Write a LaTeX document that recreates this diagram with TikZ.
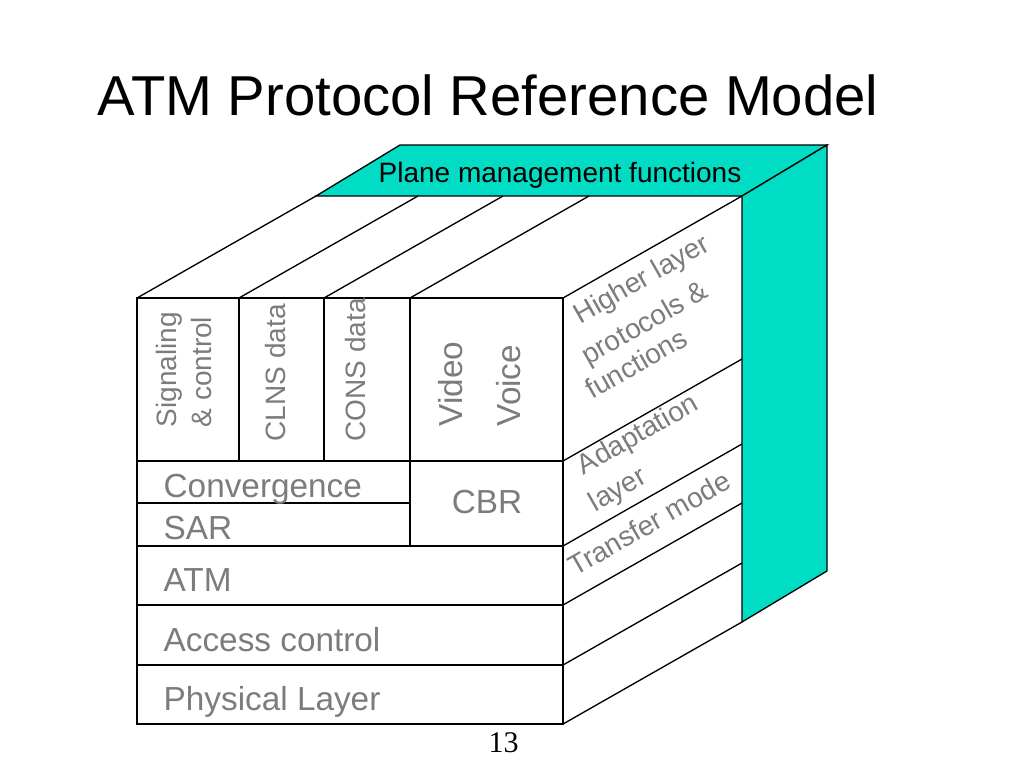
\documentclass[tikz,border=0pt]{standalone}
\usepackage{fontspec}
\setmainfont{Liberation Sans}
\newfontfamily\pagefont{Liberation Serif}
\usetikzlibrary{calc}
\definecolor{planecyan}{RGB}{0,221,196}
\definecolor{labelgray}{RGB}{124,124,124}

\begin{document}
\begin{tikzpicture}[x=0.75pt,y=-0.75pt,line width=1pt,
  rowtxt/.style={inner sep=0pt,text=labelgray,anchor=base west,font=\fontsize{25}{30}\selectfont},
  smalltxt/.style={inner sep=0pt,text=labelgray,font=\fontsize{21}{26.25}\selectfont},
  uptxt/.style={inner sep=0pt,text=labelgray,rotate=90,anchor=base west},
  sidetxt/.style={smalltxt,anchor=base,rotate=29.7}]
\useasboundingbox (0,0) rectangle (1024,768);
% the title
\node[inner sep=0pt,anchor=base west,font=\fontsize{42.2}{50}\selectfont] (title) at (97,115) {ATM Protocol Reference Model};
% the management plane behind the cube
\draw[fill=planecyan] (316,196) -- (400,145) -- (827,145) -- (742,196) -- cycle;
\draw[fill=planecyan] (742,196) -- (827,145) -- (827,571) -- (742,622) -- cycle;
\node[inner sep=0pt,anchor=base west,font=\fontsize{21}{25}\selectfont] (plane) at (378,182) {Plane management functions};
% top and right side of the cube
\foreach \x in {137,239,324,410,563}
  \draw (\x,298) -- ++(179,-102);
\foreach \y in {461,546,605,665,724}
  \draw (563,\y) -- ++(179,-102);
% front of the cube
\draw (137,298) rectangle (563,724);
\foreach \y in {461,546,605,665}
  \draw (137,\y) -- (563,\y);
\draw (137,503) -- (410,503);
\foreach \x in {239,324}
  \draw (\x,298) -- (\x,461);
\draw (410,298) -- (410,546);
% the labels on the front
\node[smalltxt,align=left,rotate=90,anchor=south west] (signal) at (212,428) {Signaling\\\& control};
\node[smalltxt,uptxt] (clns) at (285,442) {CLNS data};
\node[smalltxt,uptxt] (cons) at (365,442) {CONS data};
\node[uptxt,font=\fontsize{25}{30}\selectfont] (video) at (462,427) {Video};
\node[uptxt,font=\fontsize{25}{30}\selectfont] (voice) at (520,427) {Voice};
\node[rowtxt,anchor=base] (cbr) at (487,513) {CBR};
\node[rowtxt] (conv) at (163,497) {Convergence};
\node[rowtxt] (sar) at (163,539) {SAR};
\node[rowtxt] (atm) at (163,591) {ATM};
\node[rowtxt] (access) at (163,651) {Access control};
\node[rowtxt] (phys) at (163,710) {Physical Layer};
% the labels on the side
\node[sidetxt] (higher) at (646,287) {Higher layer};
\node[sidetxt] (protos) at (649,331) {protocols \&};
\node[sidetxt] (funcs) at (641,372) {functions};
\node[sidetxt] (adapt) at (642,442) {Adaptation};
\node[sidetxt] (adlayer) at (622,497) {layer};
\node[sidetxt] (transfer) at (654,532) {Transfer mode};
% page number
\node[inner sep=0pt,anchor=base west,font=\pagefont\fontsize{22.5}{27}\selectfont] (page) at (488,752) {13};
\end{tikzpicture}
\end{document}
